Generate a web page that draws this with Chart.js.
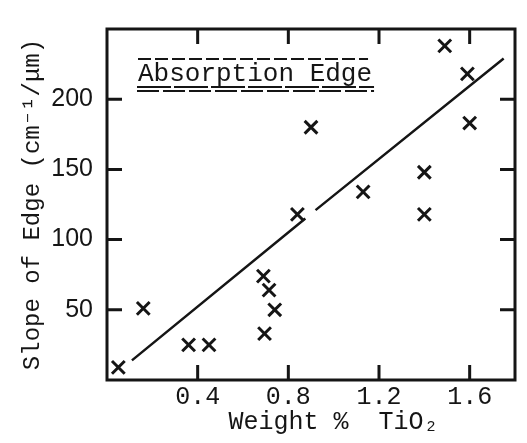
<!DOCTYPE html>
<html lang="en">
<head>
  <meta charset="UTF-8" />
  <title>Absorption edge slope vs TiO2</title>
  <script src="https://cdn.jsdelivr.net/npm/chart.js"></script>
  <style>
    html, body {
      margin: 0;
      padding: 0;
      background: #fff;
    }
    #wrap {
      width: 527px;
      height: 443px;
    }
  </style>
</head>
<body>
  <div id="wrap">
    <canvas id="myChart" width="527" height="443"></canvas>
  </div>

  <script>
    // measured points (weight % TiO2, slope of edge)
    const weightTiO2 = [0.05, 0.16, 0.36, 0.45, 0.69, 0.715, 0.74, 0.695, 0.84, 0.90, 1.13, 1.40, 1.40, 1.49, 1.59, 1.60];
    const edgeSlope = [9, 51, 25, 25, 74, 64, 50, 33, 118, 180, 134, 148, 118, 238, 218, 183];

    // hand drawn fit line, broken in the middle like the original
    const fitX = [0.11, 0.875, 0.90, 0.92, 1.75];
    const fitY = [14, 115, null, 121, 229];

    const xTicks = [0.4, 0.8, 1.2, 1.6];
    const yTicks = [50, 100, 150, 200];

    const mono = "'Liberation Mono', 'DejaVu Sans Mono', monospace";
    const ink = '#151515';

    // frame with inward ticks on all four sides + the boxed caption
    const frameTicks = {
      id: 'frameTicks',
      afterDatasetsDraw(chart) {
        const { ctx, chartArea: a, scales: { x, y } } = chart;
        const len = 15;
        ctx.save();
        ctx.strokeStyle = ink;
        ctx.lineWidth = 3;
        ctx.strokeRect(a.left, a.top, a.right - a.left, a.bottom - a.top);
        ctx.beginPath();
        xTicks.forEach(v => {
          const px = x.getPixelForValue(v);
          ctx.moveTo(px, a.bottom);
          ctx.lineTo(px, a.bottom - len);
          ctx.moveTo(px, a.top);
          ctx.lineTo(px, a.top + len);
        });
        yTicks.forEach(v => {
          const py = y.getPixelForValue(v);
          ctx.moveTo(a.left, py);
          ctx.lineTo(a.left + len, py);
          ctx.moveTo(a.right, py);
          ctx.lineTo(a.right - len, py);
        });
        ctx.stroke();

        // caption "Absorption Edge" with dashed rules
        const cx = a.left + 31;
        ctx.fillStyle = ink;
        ctx.font = '26px ' + mono;
        ctx.textBaseline = 'alphabetic';
        ctx.textAlign = 'left';
        ctx.fillText('Absorption Edge', cx, a.top + 52);
        const w = ctx.measureText('Absorption Edge').width;
        ctx.lineWidth = 2;
        ctx.setLineDash([13, 4]);
        ctx.beginPath();
        ctx.moveTo(cx, a.top + 30);
        ctx.lineTo(cx + w - 4, a.top + 30);
        ctx.stroke();
        ctx.setLineDash([34, 3]);
        ctx.beginPath();
        ctx.moveTo(cx - 1, a.top + 58);
        ctx.lineTo(cx + w + 2, a.top + 58);
        ctx.stroke();
        ctx.setLineDash([22, 4]);
        ctx.beginPath();
        ctx.moveTo(cx - 1, a.top + 62);
        ctx.lineTo(cx + w + 2, a.top + 62);
        ctx.stroke();
        ctx.restore();
      }
    };

    const ctx = document.getElementById('myChart').getContext('2d');

    new Chart(ctx, {
      type: 'scatter',
      data: {
        datasets: [
          {
            label: 'Absorption Edge',
            data: weightTiO2.map((w, i) => ({ x: w, y: edgeSlope[i] })),
            pointStyle: 'crossRot',
            pointRadius: 9,
            pointBorderWidth: 3,
            borderColor: ink,
            backgroundColor: ink,
            showLine: false
          },
          {
            label: 'fit',
            data: fitX.map((w, i) => ({ x: w, y: fitY[i] })),
            showLine: true,
            spanGaps: false,
            pointRadius: 0,
            borderWidth: 2.5,
            borderColor: ink,
            fill: false
          }
        ]
      },
      options: {
        responsive: false,
        animation: false,
        layout: {
          padding: { left: 0, right: 5, top: 12, bottom: 0 }
        },
        scales: {
          x: {
            type: 'linear',
            min: 0,
            max: 1.8,
            afterFit: s => { s.height = 63; },
            afterBuildTicks: s => { s.ticks = xTicks.map(v => ({ value: v })); },
            grid: { display: false, drawTicks: false },
            border: { display: false },
            ticks: {
              padding: 2,
              color: ink,
              font: { family: mono, size: 25 },
              callback: v => v.toFixed(1)
            },
            title: {
              display: true,
              text: '   Weight %  TiO₂',
              color: ink,
              font: { family: mono, size: 25 },
              padding: { top: 0, bottom: 6 }
            }
          },
          y: {
            type: 'linear',
            min: 0,
            max: 250,
            afterFit: s => { s.width = 107; },
            afterBuildTicks: s => { s.ticks = yTicks.map(v => ({ value: v })); },
            grid: { display: false, drawTicks: false },
            border: { display: false },
            ticks: {
              padding: 14,
              color: ink,
              font: { family: "'Liberation Sans', Arial, sans-serif", size: 25 }
            },
            title: {
              display: true,
              text: 'Slope of Edge (cm⁻¹/μm)',
              color: ink,
              font: { family: mono, size: 24 },
              padding: { top: 18, bottom: 0 }
            }
          }
        },
        plugins: {
          legend: { display: false },
          tooltip: { enabled: false }
        }
      },
      plugins: [frameTicks]
    });
  </script>
</body>
</html>
